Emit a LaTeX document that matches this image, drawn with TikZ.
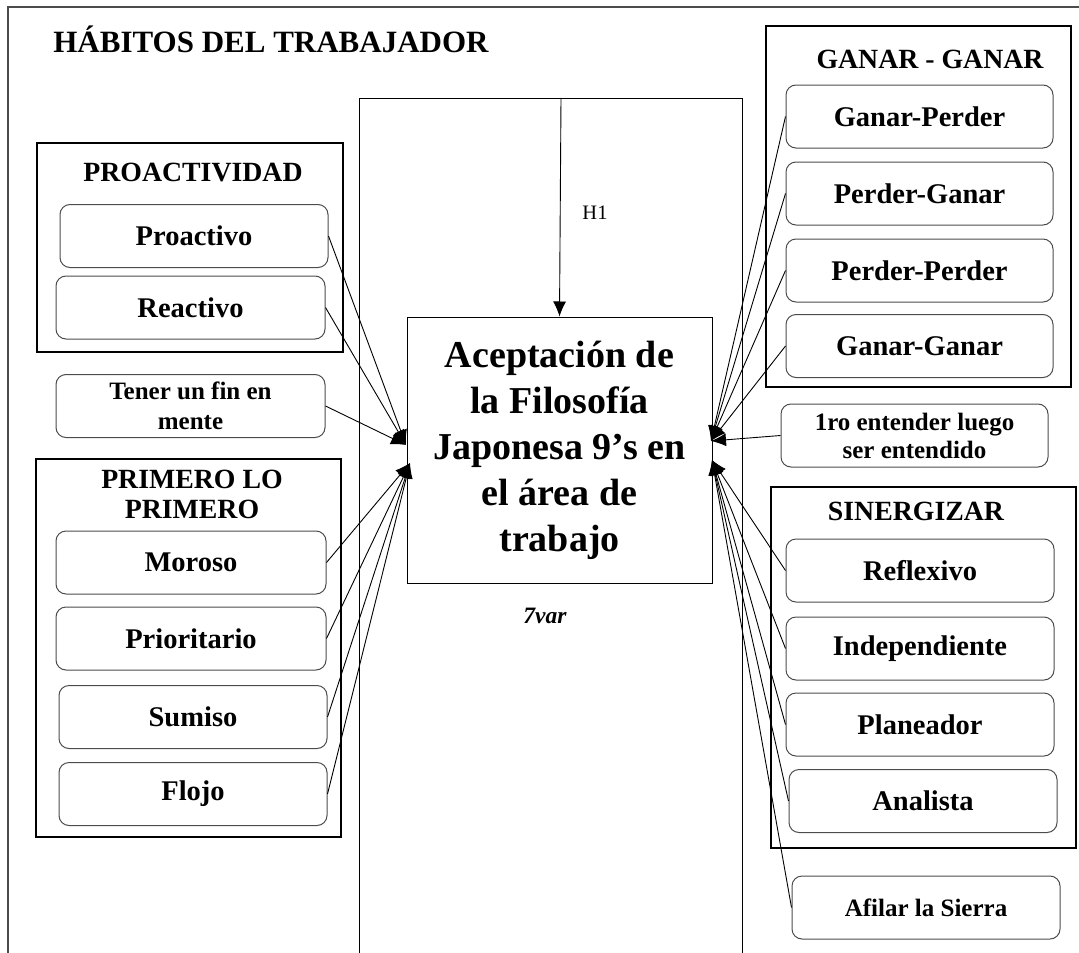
\documentclass[tikz,border=0pt]{standalone}
\usepackage{fontspec}
\setmainfont{Liberation Serif}
\usetikzlibrary{arrows.meta}

\begin{document}
\begin{tikzpicture}[x=1pt, y=-1pt]
    % Definicion estilos
    \tikzset{
        caja/.style={rectangle, draw=black!70, line width=1pt,
                     minimum height=63pt, minimum width=268pt,
                     text centered, rounded corners=10pt, inner sep=0pt,
                     font=\fontsize{28.5}{32}\selectfont\bfseries},
        cajachica/.style={caja, align=center,
                     font=\fontsize{25}{29.5}\selectfont\bfseries},
        grupo/.style={draw, line width=1.2pt},
        titulo/.style={font=\fontsize{27.8}{30}\selectfont\bfseries, align=center},
        flecha/.style={-{Latex[length=15pt, width=13pt]}, line width=0.9pt}
    }
    \useasboundingbox (0,0) rectangle (1079,953);

    % Marcos
    \draw[line width=2pt, black!70] (8,953) -- (8,7) -- (1079,7);
    \draw[line width=1pt] (359,953) -- (359,98) -- (742,98) -- (742,953);
    \draw[grupo] (37,143) rectangle (343,352);
    \draw[grupo] (36,459) rectangle (341,837);
    \draw[grupo] (766,26) rectangle (1071,387);
    \draw[grupo] (771,487) rectangle (1076,848);

    % Titulo
    \node[font=\fontsize{31}{38}\selectfont\bfseries] (titulo) at (271,39)
        {HÁBITOS DEL TRABAJADOR};

    % Variable dependiente
    \node[draw, line width=1pt, minimum width=305pt, minimum height=266pt,
          inner sep=0pt, align=center, font=\fontsize{38}{46}\selectfont\bfseries]
        (acep) at (559.5,450)
        {Aceptación de\\la Filosofía\\Japonesa 9’s en\\el área de\\trabajo};
    \node[font=\fontsize{23.5}{26}\selectfont\bfseries\itshape] (var) at (545,616) {7var};
    \node[font=\fontsize{20.5}{22}\selectfont] (h1) at (595,213) {H1};
    \coordinate (h1top) at (561,98);

    % Proactividad
    \node[titulo] (tproac) at (193,173) {PROACTIVIDAD};
    \node[caja] (proac) at (194,236) {Proactivo};
    \node[caja, minimum width=269pt] (reac) at (190.5,307.5) {Reactivo};

    % Fin en mente
    \node[cajachica, minimum width=269pt] (tener) at (190.5,406) {Tener un fin en\\mente};

    % Primero lo primero
    \node[titulo] (tprim) at (192,494) {PRIMERO LO\\PRIMERO};
    \node[caja, minimum width=270pt] (moroso) at (191,562.5) {Moroso};
    \node[caja, minimum width=270pt] (priori) at (191,638.5) {Prioritario};
    \node[caja] (sumiso) at (193,717) {Sumiso};
    \node[caja] (flojo) at (193,794) {Flojo};

    % Ganar - ganar
    \node[titulo] (tganar) at (930,59) {GANAR - GANAR};
    \node[caja, minimum width=267pt] (gp) at (919.5,116.5) {Ganar-Perder};
    \node[caja, minimum width=267pt] (pg) at (919.5,193.5) {Perder-Ganar};
    \node[caja, minimum width=267pt] (pp) at (919.5,270.5) {Perder-Perder};
    \node[caja, minimum width=267pt] (gg) at (919.5,346) {Ganar-Ganar};

    % Entender
    \node[cajachica, minimum width=267pt, font=\fontsize{25}{28}\selectfont\bfseries]
        (ro) at (914.5,435.5) {1ro entender luego\\ser entendido};

    % Sinergizar
    \node[titulo] (tsin) at (916,511) {SINERGIZAR};
    \node[caja] (refl) at (920,570.5) {Reflexivo};
    \node[caja] (indep) at (920,648.5) {Independiente};
    \node[caja] (plan) at (920,724.5) {Planeador};
    \node[caja] (anal) at (923,801) {Analista};

    % Afilar la sierra
    \node[caja, font=\fontsize{25}{30}\selectfont\bfseries] (afil) at (926,907.5)
        {\raisebox{-5pt}{Afilar la Sierra}};

    % Puntos de llegada
    \coordinate (li1) at (406,445);
    \coordinate (li2) at (410,463);
    \coordinate (ld1) at (711,441);
    \coordinate (ld2) at (712,460);

    % Conexiones
    \draw[flecha] (h1top) -- (acep.north);
    \draw[flecha] (proac.east) -- (li1);
    \draw[flecha] (reac.east) -- (li1);
    \draw[flecha] (tener.east) -- (li1);
    \draw[flecha] (moroso.east) -- (li2);
    \draw[flecha] (priori.east) -- (li2);
    \draw[flecha] (sumiso.east) -- (li2);
    \draw[flecha] (flojo.east) -- (li2);
    \draw[flecha] (gp.west) -- (ld1);
    \draw[flecha] (pg.west) -- (ld1);
    \draw[flecha] (pp.west) -- (ld1);
    \draw[flecha] (gg.west) -- (ld1);
    \draw[flecha] (ro.west) -- (ld1);
    \draw[flecha] (refl.west) -- (ld2);
    \draw[flecha] (indep.west) -- (ld2);
    \draw[flecha] (plan.west) -- (ld2);
    \draw[flecha] (anal.west) -- (ld2);
    \draw[flecha] (afil.west) -- (ld2);
\end{tikzpicture}
\end{document}
